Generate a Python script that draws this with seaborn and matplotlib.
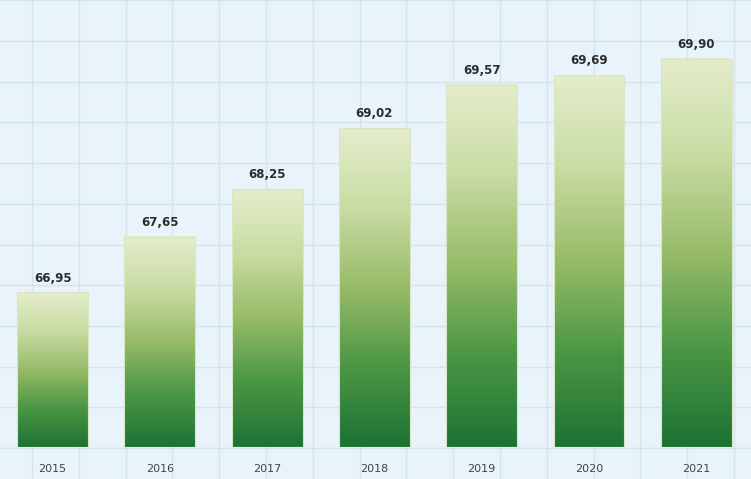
import numpy as np
import pandas as pd
import matplotlib
matplotlib.use("Agg")
import matplotlib.pyplot as plt
import seaborn as sns
from matplotlib.colors import LinearSegmentedColormap

years = ["2015", "2016", "2017", "2018", "2019", "2020", "2021"]
values = [66.95, 67.65, 68.25, 69.02, 69.57, 69.69, 69.90]

df = pd.DataFrame({"year": years, "value": values})

sns.set_theme(style="white")
plt.rcParams["font.family"] = ["DejaVu Sans"]

bg = "#e8f3fb"
grid_col = "#d5e3ed"
green = LinearSegmentedColormap.from_list(
    "greens", ["#1d7234", "#4a9644", "#97bb68", "#c9dca3", "#e4edcb"]
)

fig = plt.figure(figsize=(7.51, 4.79), dpi=100)
fig.patch.set_facecolor(bg)

# background graph-paper grid (pixel units)
bg_ax = fig.add_axes([0, 0, 1, 1], zorder=0)
bg_ax.set_xlim(0, 751)
bg_ax.set_ylim(479, 0)
bg_ax.set_facecolor(bg)
bg_ax.set_xticks(np.arange(32, 751, 46.8))
bg_ax.set_yticks(np.arange(448, -1, -40.7))
bg_ax.grid(True, color=grid_col, linewidth=1.0)
bg_ax.tick_params(length=0, labelbottom=False, labelleft=False)
for s in bg_ax.spines.values():
    s.set_visible(False)

# main axes: baseline at 65, bottom at pixel row 447
ax = fig.add_axes([0, 32 / 479, 1, 447 / 479], zorder=1)
ax.patch.set_alpha(0)
sns.barplot(data=df, x="year", y="value", ax=ax, width=0.66, color="#4a9644")
ax.set_xlim(-0.49, 6.51)
ax.set_ylim(65, 70.64)

base = 65
grad = np.linspace(0, 1, 256).reshape(-1, 1)
for p, v in zip(ax.patches, values):
    x0 = p.get_x()
    w = p.get_width()
    p.set_visible(False)
    ax.imshow(grad, cmap=green, origin="lower", aspect="auto",
              extent=[x0, x0 + w, base, p.get_height()], zorder=2,
              interpolation="bicubic")
    ax.add_patch(plt.Rectangle((x0, base), w, p.get_height() - base, fill=False,
                               edgecolor="#d8e6c4", linewidth=0.8, zorder=3))
    ax.text(x0 + w / 2, p.get_height() + 0.1, f"{v:.2f}".replace(".", ","),
            ha="center", va="bottom", fontsize=8.5, fontweight="bold", color="#2b2b2b")

ax.set_xticks(range(len(years)))
ax.set_xticklabels(years, fontsize=8, color="#444444")
ax.tick_params(axis="x", length=0, pad=12)
ax.set_yticks([])
ax.set_xlabel("")
ax.set_ylabel("")
for s in ax.spines.values():
    s.set_visible(False)
ax.axhline(base, color="#c8d6de", linewidth=0.8, zorder=1)

fig.savefig("out.png", dpi=100, facecolor=bg)
